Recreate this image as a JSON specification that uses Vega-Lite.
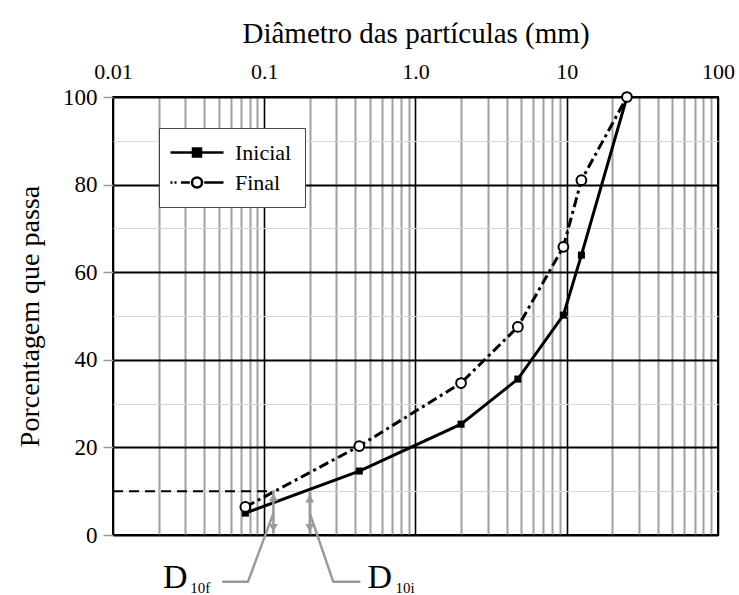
{
  "$schema": "https://vega.github.io/schema/vega-lite/v6.json",
  "autosize": {"type": "none"},
  "padding": {"left": 113, "top": 97, "right": 21, "bottom": 60},
  "width": 605,
  "height": 438,
  "background": "white",
  "config": {
    "font": "Liberation Serif",
    "axis": {"labelFont": "Liberation Serif", "titleFont": "Liberation Serif"},
    "legend": {"labelFont": "Liberation Serif", "titleFont": "Liberation Serif"},
    "text": {"font": "Liberation Serif"},
    "view": {"stroke": "black", "strokeWidth": 2}
  },
  "datasets": {
    "grain": [
      {"serie": "Inicial", "d": 0.075, "p": 5.0},
      {"serie": "Inicial", "d": 0.425, "p": 14.6},
      {"serie": "Inicial", "d": 2.0, "p": 25.3},
      {"serie": "Inicial", "d": 4.75, "p": 35.6},
      {"serie": "Inicial", "d": 9.5, "p": 50.2},
      {"serie": "Inicial", "d": 12.5, "p": 63.9},
      {"serie": "Inicial", "d": 25, "p": 100},
      {"serie": "Final", "d": 0.075, "p": 6.4},
      {"serie": "Final", "d": 0.425, "p": 20.3},
      {"serie": "Final", "d": 2.0, "p": 34.7},
      {"serie": "Final", "d": 4.75, "p": 47.5},
      {"serie": "Final", "d": 9.5, "p": 65.8},
      {"serie": "Final", "d": 12.5, "p": 81.0},
      {"serie": "Final", "d": 25, "p": 100}
    ],
    "legendRows": [
      {"serie": "Inicial", "d": 1, "p": 50},
      {"serie": "Final", "d": 1, "p": 50}
    ],
    "d10line": [
      {"d": 0.01, "p": 10},
      {"d": 0.115, "p": 10}
    ],
    "arrows": [
      {"id": "f", "d": 0.115, "p": 0.3, "p2": 10.2},
      {"id": "i", "d": 0.2, "p": 0.3, "p2": 9.9}
    ],
    "heads": [
      {"id": "f", "dir": "up", "d": 0.115, "p": 8.6},
      {"id": "f", "dir": "down", "d": 0.115, "p": 1.6},
      {"id": "i", "dir": "up", "d": 0.2, "p": 8.3},
      {"id": "i", "dir": "down", "d": 0.2, "p": 1.6}
    ],
    "leaders": [
      {"id": "f", "k": 1, "d": 0.115, "p": 5.0},
      {"id": "f", "k": 2, "d": 0.078, "p": -10.7},
      {"id": "f", "k": 3, "d": 0.0527, "p": -10.7},
      {"id": "i", "k": 1, "d": 0.2, "p": 5.0},
      {"id": "i", "k": 2, "d": 0.286, "p": -10.7},
      {"id": "i", "k": 3, "d": 0.432, "p": -10.7}
    ],
    "bigText": [
      {"t": "D", "d": 0.0214, "p": -12.1},
      {"t": "D", "d": 0.481, "p": -12.1}
    ],
    "subText": [
      {"t": "10f", "d": 0.0324, "p": -13.3},
      {"t": "10i", "d": 0.738, "p": -13.3}
    ]
  },
  "layer": [
    {
      "data": {"name": "grain"},
      "transform": [{"filter": "datum.serie == 'Inicial'"}],
      "mark": {"type": "line", "color": "black", "strokeWidth": 3},
      "encoding": {
        "x": {
          "field": "d", "type": "quantitative",
          "scale": {"type": "log", "domain": [0.01, 100]},
          "axis": {
            "orient": "top",
            "values": [0.01, 0.02, 0.03, 0.04, 0.05, 0.06, 0.07, 0.08, 0.09, 0.1, 0.2, 0.3, 0.4, 0.5, 0.6, 0.7, 0.8, 0.9, 1, 2, 3, 4, 5, 6, 7, 8, 9, 10, 20, 30, 40, 50, 60, 70, 80, 90, 100],
            "format": "~g",
            "labelExpr": "abs(log(datum.value)/LN10 - round(log(datum.value)/LN10)) < 0.001 ? (datum.value == 1 ? '1.0' : datum.label) : ''",
            "labelOverlap": false,
            "labelFlush": false,
            "labelFont": "Liberation Serif",
            "labelFontSize": 22,
            "labelColor": "black",
            "labelPadding": 14,
            "ticks": false,
            "domain": false,
            "grid": true,
            "gridColor": {"condition": {"test": "abs(log(datum.value)/LN10 - round(log(datum.value)/LN10)) < 0.001", "value": "black"}, "value": "#a0a0a0"},
            "gridWidth": {"condition": {"test": "abs(log(datum.value)/LN10 - round(log(datum.value)/LN10)) < 0.001", "value": 1.6}, "value": 2},
            "gridOpacity": 1,
            "title": "Diâmetro das partículas (mm)",
            "titleFont": "Liberation Serif",
            "titleFontSize": 29,
            "titleFontWeight": "normal",
            "titleColor": "black",
            "titlePadding": 12
          }
        },
        "y": {
          "field": "p", "type": "quantitative",
          "scale": {"domain": [0, 100], "nice": false},
          "axis": {
            "values": [0, 10, 20, 30, 40, 50, 60, 70, 80, 90, 100],
            "labelExpr": "datum.value % 20 == 0 ? datum.label : ''",
            "labelFont": "Liberation Serif",
            "labelFontSize": 23,
            "labelColor": "black",
            "labelPadding": 6,
            "tickSize": 10,
            "tickWidth": 1.5,
            "tickColor": {"condition": {"test": "datum.value % 20 == 0", "value": "#9a9a9a"}, "value": "transparent"},
            "domain": false,
            "grid": true,
            "gridColor": {"condition": {"test": "datum.value % 20 == 0", "value": "black"}, "value": "#d8d8d8"},
            "gridWidth": {"condition": {"test": "datum.value % 20 == 0", "value": 2}, "value": 1},
            "gridOpacity": 1,
            "title": "Porcentagem que passa",
            "titleFont": "Liberation Serif",
            "titleFontSize": 28,
            "titleFontWeight": "normal",
            "titleColor": "black",
            "titlePadding": 18
          }
        }
      }
    },
    {
      "data": {"name": "grain"},
      "transform": [{"filter": "datum.serie == 'Final'"}],
      "mark": {"type": "line", "color": "black", "strokeWidth": 3, "strokeDash": [10, 4, 3, 4]},
      "encoding": {
        "x": {"field": "d", "type": "quantitative"},
        "y": {"field": "p", "type": "quantitative"}
      }
    },
    {
      "data": {"name": "d10line"},
      "mark": {"type": "line", "color": "black", "strokeWidth": 2, "strokeDash": [10, 6]},
      "encoding": {
        "x": {"field": "d", "type": "quantitative"},
        "y": {"field": "p", "type": "quantitative"}
      }
    },
    {
      "data": {"name": "arrows"},
      "mark": {"type": "rule", "color": "#9a9a9a", "strokeWidth": 2.5},
      "encoding": {
        "x": {"field": "d", "type": "quantitative"},
        "y": {"field": "p", "type": "quantitative"},
        "y2": {"field": "p2"}
      }
    },
    {
      "data": {"name": "heads"},
      "transform": [{"filter": "datum.dir == 'up'"}],
      "mark": {"type": "point", "shape": "triangle-up", "filled": true, "color": "#9a9a9a", "size": 80, "opacity": 1},
      "encoding": {
        "x": {"field": "d", "type": "quantitative"},
        "y": {"field": "p", "type": "quantitative"}
      }
    },
    {
      "data": {"name": "heads"},
      "transform": [{"filter": "datum.dir == 'down'"}],
      "mark": {"type": "point", "shape": "triangle-down", "filled": true, "color": "#9a9a9a", "size": 80, "opacity": 1},
      "encoding": {
        "x": {"field": "d", "type": "quantitative"},
        "y": {"field": "p", "type": "quantitative"}
      }
    },
    {
      "data": {"name": "leaders"},
      "mark": {"type": "line", "color": "#9a9a9a", "strokeWidth": 2.5},
      "encoding": {
        "x": {"field": "d", "type": "quantitative"},
        "y": {"field": "p", "type": "quantitative"},
        "detail": {"field": "id", "type": "nominal"},
        "order": {"field": "k", "type": "quantitative"}
      }
    },
    {
      "data": {"name": "bigText"},
      "mark": {"type": "text", "align": "left", "baseline": "alphabetic", "font": "Liberation Serif", "fontSize": 34, "color": "black"},
      "encoding": {
        "x": {"field": "d", "type": "quantitative"},
        "y": {"field": "p", "type": "quantitative"},
        "text": {"field": "t"}
      }
    },
    {
      "data": {"name": "subText"},
      "mark": {"type": "text", "align": "left", "baseline": "alphabetic", "font": "Liberation Serif", "fontSize": 15, "color": "black"},
      "encoding": {
        "x": {"field": "d", "type": "quantitative"},
        "y": {"field": "p", "type": "quantitative"},
        "text": {"field": "t"}
      }
    },
    {
      "data": {"name": "grain"},
      "transform": [{"filter": "datum.serie == 'Inicial'"}],
      "mark": {"type": "point", "shape": "square", "filled": true, "color": "black", "size": 50, "opacity": 1},
      "encoding": {
        "x": {"field": "d", "type": "quantitative"},
        "y": {"field": "p", "type": "quantitative"}
      }
    },
    {
      "data": {"name": "grain"},
      "transform": [{"filter": "datum.serie == 'Final'"}],
      "mark": {"type": "point", "shape": "circle", "filled": true, "fill": "white", "stroke": "black", "strokeWidth": 2, "size": 95, "opacity": 1},
      "encoding": {
        "x": {"field": "d", "type": "quantitative"},
        "y": {"field": "p", "type": "quantitative"}
      }
    },
    {
      "data": {"name": "legendRows"},
      "mark": {"type": "point", "filled": true, "stroke": "black", "strokeWidth": 2.5, "opacity": 0},
      "encoding": {
        "x": {"field": "d", "type": "quantitative"},
        "y": {"field": "p", "type": "quantitative"},
        "shape": {
          "field": "serie", "type": "nominal",
          "scale": {"domain": ["Inicial", "Final"], "range": ["M-1.3,0H4.0M0.95,-0.4H1.75V0.4H0.95Z", "M-1.3,0H-1.1M-0.9,0H-0.7M-0.25,0H0.63M1.85,0A0.5,0.5,0,1,1,0.85,0A0.5,0.5,0,1,1,1.85,0M2.07,0H4.0"]},
          "legend": {
            "title": null,
            "orient": "none",
            "legendX": 46,
            "legendY": 31,
            "padding": 13,
            "strokeColor": "#444444",
            "fillColor": "white",
            "symbolSize": 400,
            "symbolStrokeColor": "black",
            "symbolStrokeWidth": 2.5,
            "symbolOpacity": 1,
            "labelFont": "Liberation Serif",
            "labelFontSize": 22,
            "labelColor": "black",
            "labelOffset": 40,
            "rowPadding": 7,
            "labelLimit": 200,
            "encode": {"symbols": {"update": {"stroke": {"value": "black"}, "strokeWidth": {"value": 2.5}, "opacity": {"value": 1}}}}
          }
        },
        "fill": {
          "field": "serie", "type": "nominal",
          "scale": {"domain": ["Inicial", "Final"], "range": ["black", "white"]},
          "legend": {
            "title": null,
            "orient": "none",
            "legendX": 46,
            "legendY": 31,
            "padding": 13,
            "strokeColor": "#444444",
            "fillColor": "white",
            "symbolSize": 400,
            "symbolStrokeColor": "black",
            "symbolStrokeWidth": 2.5,
            "symbolOpacity": 1,
            "labelFont": "Liberation Serif",
            "labelFontSize": 22,
            "labelColor": "black",
            "labelOffset": 40,
            "rowPadding": 7,
            "labelLimit": 200,
            "encode": {"symbols": {"update": {"stroke": {"value": "black"}, "strokeWidth": {"value": 2.5}, "opacity": {"value": 1}}}}
          }
        }
      }
    }
  ]
}
